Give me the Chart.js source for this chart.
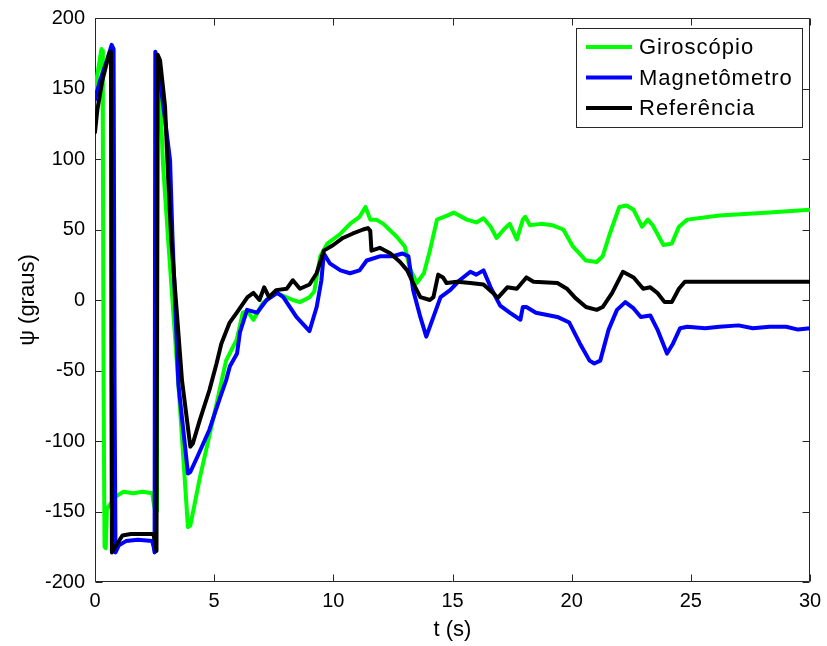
<!DOCTYPE html>
<html>
<head>
<meta charset="utf-8">
<title>ψ (graus)</title>
<script src="https://cdn.jsdelivr.net/npm/chart.js@4/dist/chart.umd.min.js"></script>
<style>
  html, body { margin: 0; padding: 0; background: #ffffff; }
  canvas { display: block; }
</style>
</head>
<body>
<canvas id="c" width="827" height="646"></canvas>
<script>
// Heading angle ψ over time: gyroscope, magnetometer and reference.
const seriesNames = ['Giroscópio', 'Magnetômetro', 'Referência'];

const xTicks = [0, 5, 10, 15, 20, 25, 30];
const yTicks = [-200, -150, -100, -50, 0, 50, 100, 150, 200];

const tGyro = [0, 0.12, 0.27, 0.3, 0.33, 0.36, 0.4, 0.45, 0.5, 0.9, 1.2, 1.6, 2.0, 2.4, 2.47, 2.55, 2.6,
  2.63, 2.7, 2.85, 3.06, 3.5, 3.9, 4.0, 4.4, 4.95, 5.5, 5.95, 6.2, 6.4, 6.65, 7.05, 7.6, 8.3, 8.6, 9.0, 9.2,
  9.45, 9.75, 10.3, 10.7, 11.1, 11.35, 11.55, 11.8, 12.1, 12.65, 13.0, 13.2, 13.5, 13.8, 14.05, 14.35, 14.8,
  15.05, 15.6, 16.0, 16.3, 16.6, 16.85, 17.15, 17.4, 17.7, 17.95, 18.05, 18.25, 18.7, 19.2, 19.65, 20.05,
  20.6, 21.05, 21.3, 21.6, 22.0, 22.3, 22.6, 22.95, 23.2, 23.4, 23.85, 24.2, 24.5, 24.85, 26.2, 28.3, 30];
const psiGyro = [150, 162, 178, 177, 120, -60, -175, -176, -148, -139, -136, -137, -136, -137, -145, -151, -150,
  172, 160, 97, 45, -60, -161, -160, -126, -85, -43, -28, -9, -8, -14, -2, 5, 0, -1.5, 2, 6,
  31, 40, 47, 54, 59, 66, 57, 57, 54, 45, 38, 23, 12, 19, 35, 57, 60,
  62, 57, 55, 58, 52, 44, 50, 54, 43, 57, 59, 53, 54, 53, 50, 38,
  28, 27, 31, 47, 66, 67, 64, 52, 57, 53, 39, 40, 52, 57, 60, 62, 64];

const tMag = [0, 0.2, 0.5, 0.7, 0.78, 0.82, 0.86, 1.0, 1.3, 1.8, 2.4, 2.46, 2.5, 2.53, 2.6, 2.94, 3.15, 3.25,
  3.5, 3.9, 4.0, 4.3, 4.8, 5.25, 5.5, 5.66, 5.96, 6.08, 6.38, 6.8, 7.2, 7.65, 7.9, 8.45, 9.0, 9.3, 9.5, 9.6,
  9.85, 10.3, 10.7, 11.1, 11.4, 11.95, 12.5, 12.9, 13.15, 13.35, 13.65, 13.9, 14.2, 14.5, 14.9, 15.3, 15.75,
  16.0, 16.3, 16.6, 17.0, 17.4, 17.85, 17.95, 18.1, 18.5, 19.4, 19.9, 20.35, 20.75, 20.95, 21.2, 21.55, 21.9,
  22.25, 22.6, 22.9, 23.3, 23.6, 24.0, 24.25, 24.55, 24.85, 25.6, 26.2, 27.0, 27.6, 28.3, 29.0, 29.5, 30];
const psiMag = [142, 155, 170, 181, 178, -60, -179, -174, -171, -170, -171, -175, -179, 176, 172, 128, 99, 45,
  -60, -123, -122, -111, -92, -69, -57, -47, -38, -23, -7, -9, 0, 5, 2, -12, -22, -5, 14, 33,
  26, 21, 19, 21, 28, 31, 31, 33, 31, 7, -12, -26, -12, 2, 7, 14, 20,
  18, 21, 9, -4, -9, -14, -5, -5, -9, -12, -16, -31, -43, -45, -43, -21, -7,
  -1.5, -6, -12, -11, -21, -38, -31, -20, -19, -20, -19, -18, -20, -19, -19, -21, -20];

const tRef = [0, 0.1, 0.3, 0.55, 0.63, 0.67, 0.69, 0.71, 0.85, 1.15, 1.5, 2.0, 2.45, 2.53, 2.58, 2.63, 2.73,
  2.94, 3.06, 3.2, 3.65, 4.0, 4.1, 4.4, 4.8, 5.1, 5.3, 5.65, 5.95, 6.4, 6.65, 6.9, 7.1, 7.3, 7.6, 8.05, 8.3,
  8.6, 9.0, 9.3, 9.6, 10.0, 10.4, 10.8, 11.25, 11.45, 11.55, 11.6, 11.95, 12.4, 12.8, 13.1, 13.35, 13.65,
  14.05, 14.2, 14.4, 14.6, 14.75, 15.2, 15.75, 16.3, 16.7, 16.9, 17.3, 17.7, 18.1, 18.4, 19.4, 19.8, 20.15,
  20.6, 21.05, 21.3, 21.7, 22.15, 22.6, 23.0, 23.3, 23.6, 23.9, 24.2, 24.5, 24.75, 30];
const psiRef = [119, 135, 155, 172, 176, 170, -60, -179, -175, -167, -166, -166, -166, -172, -178, 174, 170,
  137, 90, 43, -57, -104, -102, -85, -64, -45, -31, -16, -9, 2, 5, 0, 9, 2, 7, 8, 14,
  8, 11, 19, 35, 39, 44, 47, 50, 51, 49, 35, 37, 33, 27, 21, 12, 2,
  0, 2, 18, 16, 12, 13, 12, 11, 5, 1.5, 9, 8, 16, 13, 12, 8, 1.5,
  -5, -7, -5, 5, 20, 16, 8, 9, 5, -1.5, -1.5, 8, 13, 13];

const seriesColors = ['#00ff00', '#0000ff', '#000000'];
const drawOrder = [3, 2, 1];

function pairs(ts, vs) {
  return ts.map((t, i) => ({ x: t, y: vs[i] }));
}

const seriesData = [pairs(tGyro, psiGyro), pairs(tMag, psiMag), pairs(tRef, psiRef)];

// Axes box with inward ticks on all four sides
const framePlugin = {
  id: 'frame',
  beforeDatasetsDraw(chart) {
    const { ctx, chartArea: a, scales } = chart;
    const L = Math.round(a.left) + 0.5, R = Math.round(a.right) - 0.5;
    const T = Math.round(a.top) + 0.5, B = Math.round(a.bottom) - 0.5;
    const len = 7;
    ctx.save();
    ctx.strokeStyle = '#262626';
    ctx.lineWidth = 1;
    ctx.beginPath();
    ctx.rect(L, T, R - L, B - T);
    xTicks.forEach(v => {
      const px = Math.round(scales.x.getPixelForValue(v)) + 0.5;
      ctx.moveTo(px, B); ctx.lineTo(px, B - len);
      ctx.moveTo(px, T); ctx.lineTo(px, T + len);
    });
    yTicks.forEach(v => {
      const py = Math.round(scales.y.getPixelForValue(v)) + 0.5;
      ctx.moveTo(L, py); ctx.lineTo(L + len, py);
      ctx.moveTo(R, py); ctx.lineTo(R - len, py);
    });
    ctx.stroke();
    ctx.restore();
  }
};

// Boxed legend in the upper-right corner of the plot
const legendPlugin = {
  id: 'boxLegend',
  afterDraw(chart) {
    const { ctx, chartArea: a } = chart;
    const font = '22px "Liberation Sans", Arial, sans-serif';
    const rowH = 30.5, padTop = 19, padL = 10, lineLen = 46, gap = 7, padR = 9;
    ctx.save();
    ctx.font = font;
    if ('letterSpacing' in ctx) ctx.letterSpacing = '1px';
    const textW = Math.max(...chart.data.datasets.map(d => ctx.measureText(d.label).width));
    const w = padL + lineLen + gap + textW + padR;
    const h = padTop * 2 + rowH * (chart.data.datasets.length - 1);
    const right = Math.round(a.right) - 8, top = Math.round(a.top) + 10;
    const left = Math.round(right - w);
    ctx.fillStyle = '#ffffff';
    ctx.fillRect(left, top, right - left, h);
    ctx.strokeStyle = '#262626';
    ctx.lineWidth = 1;
    ctx.strokeRect(left + 0.5, top + 0.5, right - left, Math.round(h));
    chart.data.datasets.forEach((d, i) => {
      const cy = top + padTop + rowH * i;
      ctx.strokeStyle = d.borderColor;
      ctx.lineWidth = 4;
      ctx.beginPath();
      ctx.moveTo(left + padL, cy);
      ctx.lineTo(left + padL + lineLen, cy);
      ctx.stroke();
      ctx.fillStyle = '#000000';
      ctx.textBaseline = 'middle';
      ctx.textAlign = 'left';
      ctx.fillText(d.label, left + padL + lineLen + gap, cy + 1);
    });
    ctx.restore();
  }
};

new Chart(document.getElementById('c'), {
  type: 'line',
  data: {
    datasets: seriesNames.map((name, i) => ({
      label: name,
      data: seriesData[i],
      borderColor: seriesColors[i],
      backgroundColor: seriesColors[i],
      borderWidth: 4,
      borderJoinStyle: 'round',
      borderCapStyle: 'round',
      pointRadius: 0,
      tension: 0,
      fill: false,
      order: drawOrder[i]
    }))
  },
  options: {
    responsive: false,
    animation: false,
    devicePixelRatio: 1,
    layout: { padding: { left: 0, right: 17, top: 18, bottom: 0 } },
    plugins: { legend: { display: false }, tooltip: { enabled: false } },
    scales: {
      x: {
        type: 'linear',
        min: 0,
        max: 30,
        afterBuildTicks: s => { s.ticks = xTicks.map(v => ({ value: v })); },
        afterFit: s => { s.height = 64; s.paddingLeft = 0; s.paddingRight = 0; },
        grid: { display: false, drawTicks: false },
        border: { display: false },
        ticks: {
          color: '#000000',
          padding: 7,
          maxRotation: 0,
          font: { family: '"Liberation Sans", Arial, sans-serif', size: 20 }
        },
        title: {
          display: true,
          text: 't (s)',
          color: '#000000',
          padding: { top: 0, bottom: 3 },
          font: { family: '"Liberation Sans", Arial, sans-serif', size: 22 }
        }
      },
      y: {
        min: -200,
        max: 200,
        afterBuildTicks: s => { s.ticks = yTicks.map(v => ({ value: v })); },
        afterFit: s => { s.width = 95; s.paddingTop = 0; s.paddingBottom = 0; },
        grid: { display: false, drawTicks: false },
        border: { display: false },
        ticks: {
          color: '#000000',
          padding: 10,
          font: { family: '"Liberation Sans", Arial, sans-serif', size: 20 }
        },
        title: {
          display: true,
          text: 'ψ (graus)',
          color: '#000000',
          padding: { top: 15, bottom: 0 },
          font: { family: '"Liberation Sans", Arial, sans-serif', size: 22 }
        }
      }
    }
  },
  plugins: [framePlugin, legendPlugin]
});
</script>
</body>
</html>
